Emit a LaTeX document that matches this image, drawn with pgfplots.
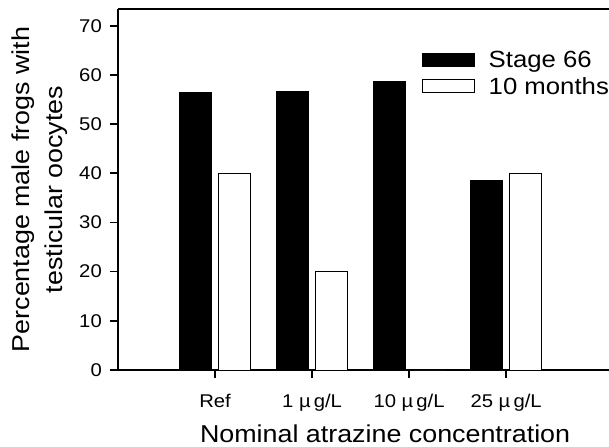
\documentclass[border=0pt]{standalone}
\usepackage{pgfplots}
\pgfplotsset{compat=1.18}
\usepackage{fontspec}
\setmainfont{Liberation Sans}[FakeStretch=1.1]

\begin{document}
\begin{tikzpicture}
\useasboundingbox (-118bp,-77bp) rectangle (491bp,370bp);
\begin{axis}[
  scale only axis, width=491bp, height=361bp,
  xmin=-1, xmax=4.06, ymin=0, ymax=73.4,
  axis x line*=box, axis y line*=left,
  xtick pos=left, ytick pos=left,
  axis line style={line width=2.2bp},
  tick style={line width=1.6bp, black},
  tick align=outside, major tick length=8bp,
  ytick={0,10,...,70},
  xtick={0,1,2,3},
  xticklabels={Ref, 1 µ\,g/L, 10 µ\,g/L, 25 µ\,g/L},
  /pgf/number format/assume math mode=true,
  tick label style={font=\fontsize{18.5}{18.5}\selectfont},
  yticklabel style={anchor=east, inner sep=0pt, xshift=-8bp},
  xticklabel style={anchor=base, inner sep=0pt, yshift=-29bp},
  ybar=6.8bp, bar width=32bp,
  every axis y label/.style={at={(axis description cs:-0.159,0.5)}, rotate=90, anchor=center, align=center, font=\fontsize{24.5}{33}\selectfont},
  every axis x label/.style={at={(axis description cs:0.544,-0.202)}, anchor=base, font=\fontsize{24.5}{24.5}\selectfont},
  ylabel={Percentage male frogs with\\testicular oocytes},
  xlabel={Nominal atrazine concentration},
  legend image code/.code={\draw[#1] (0bp,-6.5bp) rectangle (52bp,6.5bp);},
  legend style={at={(axis description cs:0.6185,0.8837)}, anchor=north west, draw=none, fill=none, inner sep=0pt, outer sep=0pt, row sep=9.8bp, font=\fontsize{23.5}{23.5}\selectfont, nodes={inner sep=0pt, text height=16.8bp, text depth=0bp}, /tikz/every odd column/.append style={column sep=14bp}},
  legend cell align=left,
]
\addplot[fill=black, draw=black, line width=0.6bp] coordinates {(0,56.5) (1,56.7) (2,58.7) (3,38.6)};
\addplot[fill=white, draw=black, line width=1bp] coordinates {(0,40) (1,20) (2,0) (3,40)};
\legend{Stage 66, 10 months}
\end{axis}
\end{tikzpicture}
\end{document}
